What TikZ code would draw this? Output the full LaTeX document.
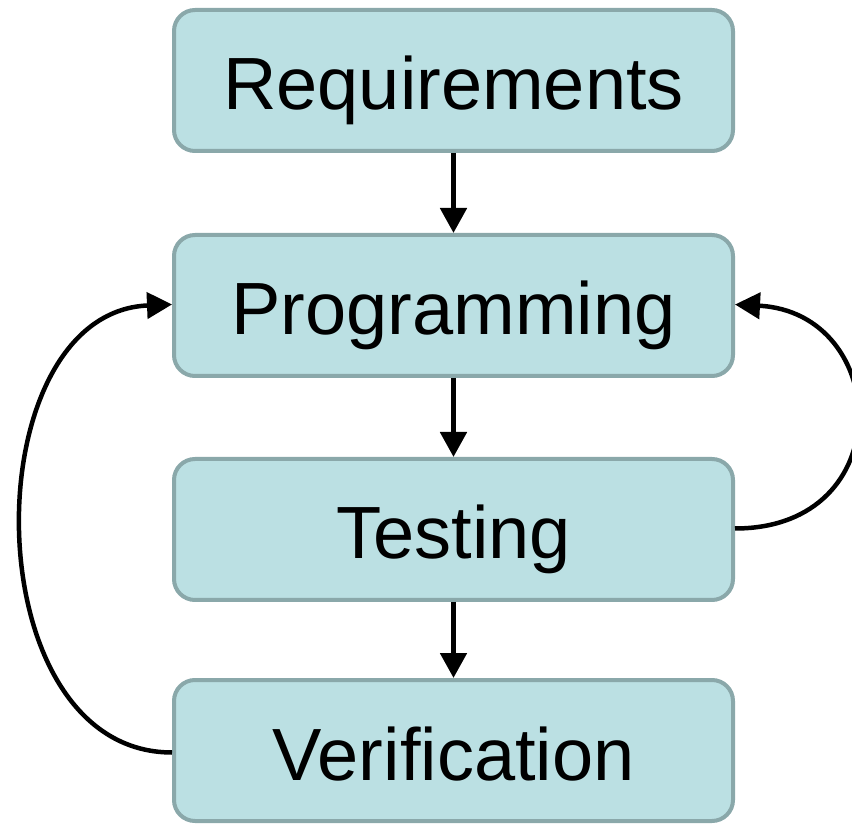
\documentclass[tikz,border=0pt]{standalone}
\usepackage{fontspec}
\setmainfont{Liberation Sans}
\usetikzlibrary{arrows.meta}
\definecolor{boxfill}{RGB}{187,224,227}
\definecolor{boxline}{RGB}{138,168,170}
\begin{document}
\begin{tikzpicture}[x=1pt,y=1pt,
  stage/.style={draw=boxline, fill=boxfill, line width=4pt, rounded corners=21pt,
    minimum width=559pt, minimum height=141pt, inner sep=0pt,
    font=\fontsize{74}{80}\selectfont, text height=60pt, text depth=1pt},
  flow/.style={line width=5pt, -{Triangle[width=26pt,length=25pt]}},
  loop/.style={line width=4.5pt, -{Triangle[width=26pt,length=25pt]}}]
\useasboundingbox (0,0) rectangle (852,823);
\node[stage] (req) at (453.5,742.5) {Requirements};
\node[stage] (prog) at (453.5,517.5) {Programming};
\node[stage] (test) at (453.5,293.5) {Testing};
\node[stage] (ver) at (453.5,72.5) {Verification};
\draw[flow] (req) -- (prog);
\draw[flow] (prog) -- (test);
\draw[flow] (test) -- (ver);
% feedback loops
\draw[loop] ([yshift=-2pt]ver.west) .. controls +(-200,0) and +(-200,-8) .. ([yshift=1pt]prog.west);
\draw[loop] ([yshift=1pt]test.east) .. controls +(166,0) and +(156,-8) .. ([yshift=1pt]prog.east);
\end{tikzpicture}
\end{document}
